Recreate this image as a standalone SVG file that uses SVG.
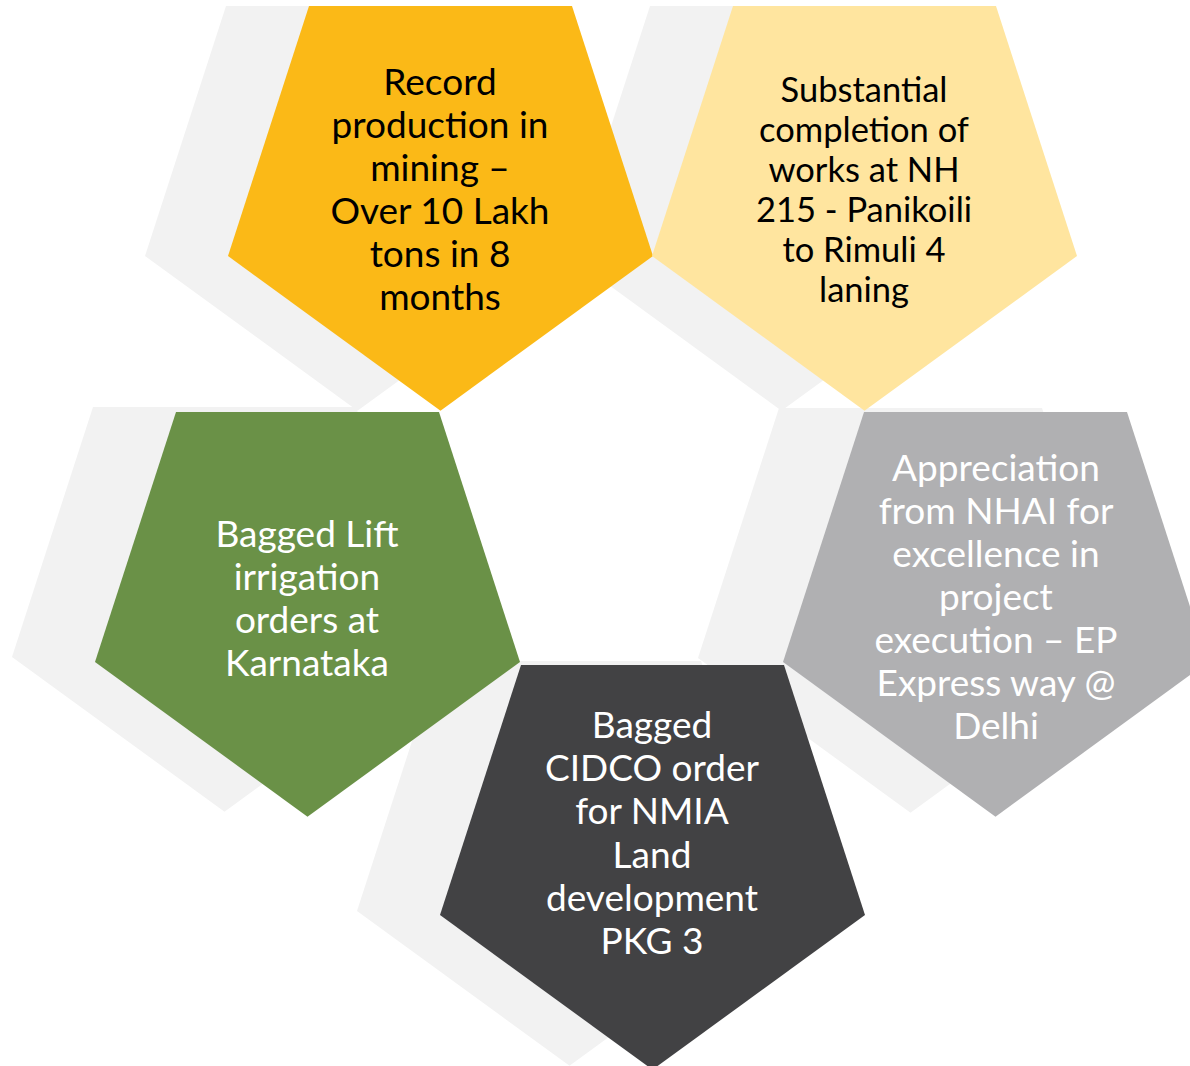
<svg xmlns="http://www.w3.org/2000/svg" width="1190" height="1066" viewBox="0 0 1190 1066">
  <defs>
    <!-- regular pentagon, point down, side 263; origin at top-left corner -->
    <polygon id="penta" points="0,0 263,0 344,250 131.5,404.7 -81,250"/>
    <style>
      .shadow { fill: #F2F2F2; }
      text { font-family: Lato, "Open Sans", "Liberation Sans", sans-serif; font-size: 37px; text-anchor: middle; }
      .dark text { fill: #000000; }
      .light text { fill: #FFFFFF; }
      .small text { font-size: 34.5px; }
    </style>
  </defs>

  <!-- soft offset backplates behind every pentagon -->
  <g id="shadows">
    <use href="#penta" class="shadow" x="226" y="6"/>
    <use href="#penta" class="shadow" x="650" y="6"/>
    <use href="#penta" class="shadow" x="93" y="407"/>
    <use href="#penta" class="shadow" x="779" y="408"/>
    <use href="#penta" class="shadow" x="438" y="661"/>
  </g>

  <g id="connectors"/>

  <g id="node-mining" class="dark">
    <use href="#penta" x="309" y="6" fill="#FBB917"/>
    <text x="440" y="95">Record</text>
    <text x="440" y="138">production in</text>
    <text x="440" y="181">mining –</text>
    <text x="440" y="224">Over 10 Lakh</text>
    <text x="440" y="267">tons in 8</text>
    <text x="440" y="310">months</text>
  </g>

  <g id="node-nh215" class="dark small">
    <use href="#penta" x="733" y="6" fill="#FFE59F"/>
    <text x="864" y="102">Substantial</text>
    <text x="864" y="142">completion of</text>
    <text x="864" y="182">works at NH</text>
    <text x="864" y="222">215 - Panikoili</text>
    <text x="864" y="262">to Rimuli 4</text>
    <text x="864" y="302">laning</text>
  </g>

  <g id="node-irrigation" class="light">
    <use href="#penta" x="176" y="412" fill="#6A9147"/>
    <text x="307" y="547">Bagged Lift</text>
    <text x="307" y="590">irrigation</text>
    <text x="307" y="633">orders at</text>
    <text x="307" y="676">Karnataka</text>
  </g>

  <g id="node-nhai" class="light">
    <use href="#penta" x="864" y="412" fill="#B0B0B2"/>
    <text x="996" y="481">Appreciation</text>
    <text x="996" y="524">from NHAI for</text>
    <text x="996" y="567">excellence in</text>
    <text x="996" y="610">project</text>
    <text x="996" y="653">execution – EP</text>
    <text x="996" y="696">Express way @</text>
    <text x="996" y="739">Delhi</text>
  </g>

  <g id="node-cidco" class="light">
    <use href="#penta" x="521" y="665" fill="#424244"/>
    <text x="652" y="738">Bagged</text>
    <text x="652" y="781">CIDCO order</text>
    <text x="652" y="824">for NMIA</text>
    <text x="652" y="868">Land</text>
    <text x="652" y="911">development</text>
    <text x="652" y="954">PKG 3</text>
  </g>
</svg>
